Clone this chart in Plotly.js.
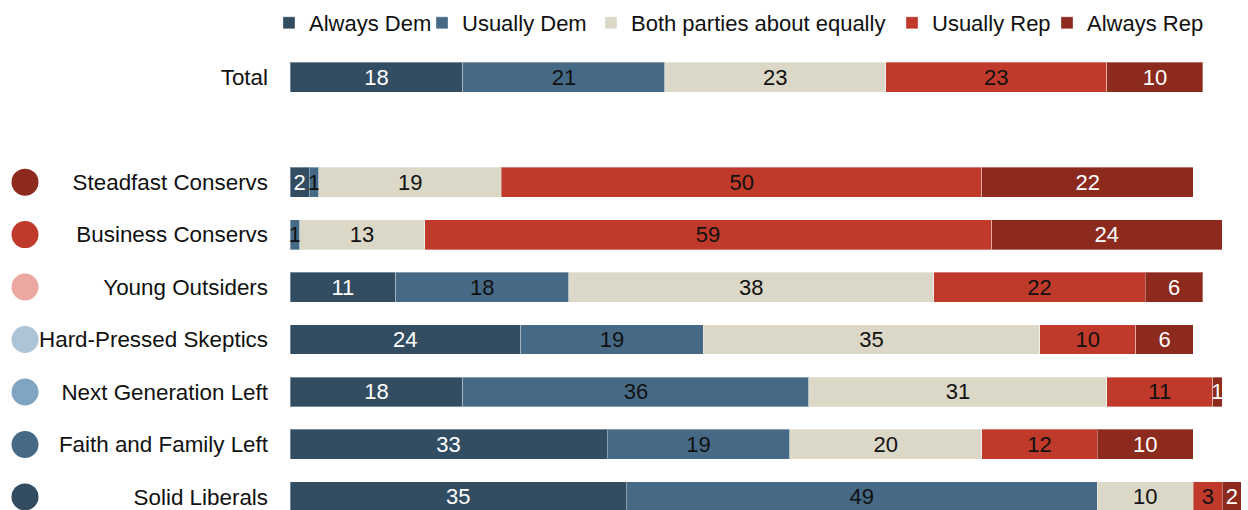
<!DOCTYPE html>
<html>
<head>
<meta charset="utf-8">
<script src="https://cdn.plot.ly/plotly-3.0.1.min.js"></script>
<style>html,body{margin:0;padding:0;background:#fff;}#chart{width:1248px;height:510px;}</style>
</head>
<body>
<div id="chart"></div>
<script>
// ---- data ----
var rowLabels = ['Total', 'Steadfast Conservs', 'Business Conservs', 'Young Outsiders',
  'Hard-Pressed Skeptics', 'Next Generation Left', 'Faith and Family Left', 'Solid Liberals'];
var categoryOrder = ['Total', ' ', 'Steadfast Conservs', 'Business Conservs', 'Young Outsiders',
  'Hard-Pressed Skeptics', 'Next Generation Left', 'Faith and Family Left', 'Solid Liberals'];
var seriesNames = ['Always Dem', 'Usually Dem', 'Both parties about equally', 'Usually Rep', 'Always Rep'];
var alwaysDem   = [18, 2, 0, 11, 24, 18, 33, 35];
var usuallyDem  = [21, 1, 1, 18, 19, 36, 19, 49];
var bothEqually = [23, 19, 13, 38, 35, 31, 20, 10];
var usuallyRep  = [23, 50, 59, 22, 10, 11, 12, 3];
var alwaysRep   = [10, 22, 24, 6, 6, 1, 10, 2];
var groupLabels = ['Steadfast Conservs', 'Business Conservs', 'Young Outsiders',
  'Hard-Pressed Skeptics', 'Next Generation Left', 'Faith and Family Left', 'Solid Liberals'];
var groupColors = ['#8c2a1e', '#bf3a2b', '#eba8a0', '#adc4d7', '#80a5c2', '#466a86', '#324d61'];

// ---- styles ----
var seriesValues = [alwaysDem, usuallyDem, bothEqually, usuallyRep, alwaysRep];
var seriesColors = ['#324d61', '#466a86', '#dbd8c7', '#bf3a2b', '#8c2a1e'];
var textColors = ['#ffffff', '#111111', '#111111', '#111111', '#ffffff'];
var legendIds = ['legend', 'legend2', 'legend3', 'legend4', 'legend5'];
var legendX = [269, 422, 591, 892, 1047];
var FONT = 'Liberation Sans, Arial, sans-serif';
var W = 1248;

var traces = seriesNames.map(function (name, i) {
  return {
    type: 'bar', orientation: 'h', name: name,
    x: seriesValues[i], y: rowLabels,
    width: 0.57,
    marker: { color: seriesColors[i], line: { color: 'rgba(255,255,255,0.35)', width: 1 } },
    text: seriesValues[i].map(function (v) { return v > 0 ? String(v) : ''; }),
    textposition: 'inside', insidetextanchor: 'middle', textangle: 0,
    constraintext: 'none', cliponaxis: false,
    textfont: { family: FONT, size: 22, color: textColors[i] },
    legend: legendIds[i],
    hoverinfo: 'skip'
  };
});

traces.push({
  type: 'scatter', mode: 'markers', xaxis: 'x2', yaxis: 'y',
  x: groupLabels.map(function () { return 0; }), y: groupLabels,
  marker: { size: 27, color: groupColors, line: { width: 0 } },
  showlegend: false, hoverinfo: 'skip', cliponaxis: false
});

var layout = {
  width: 1248, height: 510,
  margin: { l: 0, r: 0, t: 51, b: 0, pad: 0 },
  paper_bgcolor: '#ffffff', plot_bgcolor: '#ffffff',
  barmode: 'stack',
  font: { family: FONT, size: 22, color: '#111111' },
  xaxis: {
    domain: [290 / W, 1], range: [0, 958 / 9.61],
    showgrid: false, zeroline: false, showline: false, showticklabels: false, ticks: ''
  },
  xaxis2: {
    domain: [0, 50 / W], range: [-1, 1], anchor: 'y',
    showgrid: false, zeroline: false, showline: false, showticklabels: false, ticks: ''
  },
  yaxis: {
    type: 'category', categoryorder: 'array', categoryarray: categoryOrder,
    range: [8.25, -0.5], anchor: 'x',
    showgrid: false, zeroline: false, showline: false, ticks: '',
    ticklabelstandoff: 21,
    tickfont: { family: FONT, size: 22.4, color: '#111111' }
  },
  showlegend: true
};

legendIds.forEach(function (id, i) {
  layout[id] = {
    orientation: 'h', x: legendX[i] / W, xanchor: 'left',
    y: 1 + 28 / 459, yanchor: 'middle',
    font: { family: FONT, size: 22, color: '#111111' },
    bgcolor: 'rgba(0,0,0,0)', borderwidth: 0, itemclick: false, itemdoubleclick: false
  };
});

Plotly.newPlot('chart', traces, layout, { displayModeBar: false, staticPlot: true });
</script>
</body>
</html>
